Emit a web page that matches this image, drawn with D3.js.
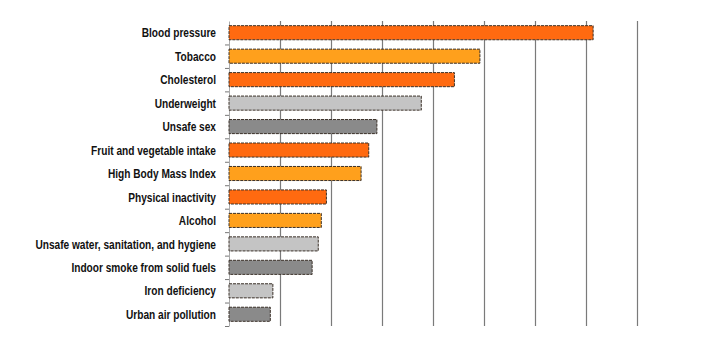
<!DOCTYPE html>
<html>
<head>
<meta charset="utf-8">
<script src="https://cdn.jsdelivr.net/npm/d3@7"></script>
<style>
  body { margin: 0; background: #fff; }
  svg text { font-family: "Liberation Sans Narrow", "Arial Narrow", "Liberation Sans", sans-serif; }
</style>
</head>
<body>
<div id="chart"></div>
<script>
// Risk factors (top to bottom)
const factors = [
    "Blood pressure", "Tobacco", "Cholesterol", "Underweight", "Unsafe sex",
    "Fruit and vegetable intake", "High Body Mass Index", "Physical inactivity",
    "Alcohol", "Unsafe water, sanitation, and hygiene",
    "Indoor smoke from solid fuels", "Iron deficiency", "Urban air pollution"
];
// Bar values (axis units)
const values = [7.14, 4.92, 4.42, 3.77, 2.90, 2.74, 2.59, 1.91, 1.81, 1.75, 1.63, 0.86, 0.81];
// Colour group of each bar
const groups = ["dark", "light", "dark", "lgray", "dgray", "dark", "light", "dark", "light", "lgray", "dgray", "lgray", "dgray"];
const xTicks = [0, 1, 2, 3, 4, 5, 6, 7, 8];

const width = 702;
const height = 353;
const margin = { top: 21, right: 65, bottom: 27, left: 229 };

const colorScale = d3.scaleOrdinal()
    .domain(["dark", "light", "lgray", "dgray"])
    .range(["#ff6a10", "#ffa01c", "#c4c4c4", "#8a8a8a"]);

const xScale = d3.scaleLinear()
    .domain([0, 8])
    .range([margin.left, width - margin.right]);

const yScale = d3.scaleBand()
    .domain(factors)
    .range([margin.top, height - margin.bottom])
    .paddingInner(0.4)
    .paddingOuter(0.2);

const svg = d3.select("#chart")
    .append("svg")
    .attr("width", width)
    .attr("height", height);

// Vertical grid lines
const xAxis = d3.axisBottom(xScale)
    .tickValues(xTicks.slice(1))
    .tickSize(-(height - margin.top - margin.bottom))
    .tickFormat("");
const gx = svg.append("g")
    .attr("transform", `translate(0,${height - margin.bottom})`)
    .call(xAxis);
gx.select(".domain").remove();
gx.selectAll("line").attr("stroke", "#7a7a7a").attr("stroke-width", 1.2);

// Left axis with small ticks at the band boundaries
const yIndex = d3.scaleLinear()
    .domain([0, factors.length])
    .range([margin.top, height - margin.bottom]);
const yAxis = d3.axisLeft(yIndex)
    .tickValues(d3.range(1, factors.length + 1))
    .tickSize(4)
    .tickSizeOuter(0)
    .tickFormat("");
const gy = svg.append("g")
    .attr("transform", `translate(${margin.left},0)`)
    .call(yAxis);
gy.selectAll("line").attr("stroke", "#777");
gy.select(".domain").attr("stroke", "#aaa");

// Bars
svg.selectAll(".bar")
    .data(factors)
    .enter()
    .append("rect")
    .attr("class", "bar")
    .attr("x", xScale(0))
    .attr("y", d => yScale(d))
    .attr("width", (d, i) => xScale(values[i]) - xScale(0))
    .attr("height", yScale.bandwidth())
    .attr("fill", (d, i) => colorScale(groups[i]))
    .attr("stroke", "#3a3028")
    .attr("stroke-width", 1)
    .attr("stroke-dasharray", "3,1");

// Category labels (condensed horizontally, like a narrow font)
const labels = svg.append("g")
    .attr("transform", "translate(216,0) scale(0.78,1)");
labels.selectAll(".label")
    .data(factors)
    .enter()
    .append("text")
    .attr("class", "label")
    .attr("x", 0)
    .attr("y", d => yScale(d) + yScale.bandwidth() / 2)
    .attr("dy", "0.36em")
    .style("text-anchor", "end")
    .style("font-size", "13px")
    .style("font-weight", "bold")
    .style("fill", "#111")
    .text(d => d);
</script>
</body>
</html>
